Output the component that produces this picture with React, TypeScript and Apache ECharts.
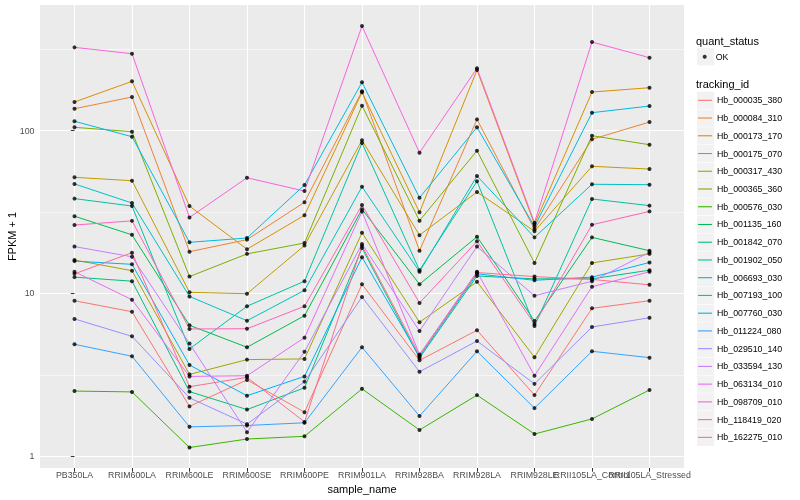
import React, { useEffect, useRef } from "react";
import * as echarts from "echarts";

const categories = [
  "PB350LA", "RRIM600LA", "RRIM600LE", "RRIM600SE", "RRIM600PE", "RRIM901LA",
  "RRIM928BA", "RRIM928LA", "RRIM928LE", "RRII105LA_Control", "RRII105LA_Stressed",
];

const trackingIds = [
  "Hb_000035_380", "Hb_000084_310", "Hb_000173_170", "Hb_000175_070", "Hb_000317_430",
  "Hb_000365_360", "Hb_000576_030", "Hb_001135_160", "Hb_001842_070", "Hb_001902_050",
  "Hb_006693_030", "Hb_007193_100", "Hb_007760_030", "Hb_011224_080", "Hb_029510_140",
  "Hb_033594_130", "Hb_063134_010", "Hb_098709_010", "Hb_118419_020", "Hb_162275_010",
];

const colors = [
  "#F8766D", "#EA8331", "#D89000", "#C09B00", "#A3A500", "#7CAE00", "#39B600", "#00BB4E",
  "#00BF7D", "#00C1A3", "#00BFC4", "#00BAE0", "#00B0F6", "#35A2FF", "#9590FF", "#C77CFF",
  "#E76BF3", "#FA62DB", "#FF62BC", "#FF6C91",
];

// FPKM + 1, one value per sample (categories order)
const Hb_000035_380 = [9.03, 7.73, 2.03, 2.95, 1.87, 11.4, 3.89, 5.95, 2.38, 8.11, 9.03];
const Hb_000084_310 = [136, 160.5, 18.05, 21.4, 36.3, 174, 18.3, 117, 24.8, 88.3, 112.7];
const Hb_000173_170 = [149.6, 200.3, 34.4, 18.7, 30.2, 171.5, 31.5, 235, 26.6, 172.2, 183];
const Hb_000175_070 = [51.6, 49.2, 10.17, 9.97, 19.7, 87.1, 22.8, 41.95, 24.1, 60.3, 58.0];
const Hb_000317_430 = [16.05, 13.8, 3.19, 3.93, 3.97, 23.6, 6.66, 11.8, 4.06, 15.4, 17.5];
const Hb_000365_360 = [104.6, 98.3, 12.7, 17.5, 20.4, 141.9, 27.96, 75.2, 15.4, 92.9, 81.8];
const Hb_000576_030 = [2.52, 2.49, 1.135, 1.28, 1.33, 2.6, 1.454, 2.38, 1.374, 1.7, 2.56];
const Hb_001135_160 = [29.8, 22.9, 6.38, 4.68, 7.31, 32.9, 11.4, 22.3, 6.78, 22.1, 18.3];
const Hb_001842_070 = [12.6, 11.9, 2.5, 1.94, 2.64, 19.0, 4.02, 12.8, 12.3, 12.3, 13.9];
const Hb_001902_050 = [38.2, 34.4, 4.57, 8.35, 11.9, 83.8, 13.9, 48.8, 6.32, 38.0, 34.6];
const Hb_006693_030 = [47.0, 35.9, 9.59, 6.81, 10.46, 45.2, 13.6, 52.6, 22.1, 46.8, 46.5];
const Hb_007193_100 = [113.9, 91.6, 20.6, 21.9, 46.3, 197.5, 38.7, 104.6, 25.7, 128.6, 141.3];
const Hb_007760_030 = [15.8, 15.1, 3.64, 2.36, 3.1, 16.7, 4.1, 13.2, 12.05, 12.6, 15.5];
const Hb_011224_080 = [4.88, 4.12, 1.52, 1.55, 1.61, 4.68, 1.77, 4.42, 1.98, 4.42, 4.04];
const Hb_029510_140 = [6.98, 5.46, 2.29, 1.58, 2.88, 9.52, 3.31, 5.11, 2.79, 6.23, 7.1];
const Hb_033594_130 = [19.4, 16.8, 4.93, 1.41, 4.39, 20.1, 5.89, 19.4, 9.69, 11.9, 17.9];
const Hb_063134_010 = [13.6, 9.16, 3.1, 3.13, 5.36, 31.85, 4.22, 13.6, 3.13, 11.0, 13.6];
const Hb_098709_010 = [323.6, 295.8, 29.3, 51.3, 42.5, 437.5, 73.1, 240.7, 27.2, 349, 279.6];
const Hb_118419_020 = [26.3, 27.9, 6.06, 6.08, 8.35, 34.9, 8.75, 20.9, 6.5, 26.4, 31.9];
const Hb_162275_010 = [13.2, 17.8, 2.68, 3.06, 1.63, 19.6, 4.17, 13.45, 12.7, 12.2, 11.3];

const yMajorTicks = [1, 10, 100];
const yMinorTicks = [3.1623, 31.623, 316.23];

const FONT = "Liberation Sans";

export default function App() {
  const ref = useRef<HTMLDivElement>(null);

  useEffect(() => {
    if (!ref.current) return;
    const chart = echarts.init(ref.current, null, { renderer: "svg" });

    const seriesValues = [
      Hb_000035_380, Hb_000084_310, Hb_000173_170, Hb_000175_070, Hb_000317_430,
      Hb_000365_360, Hb_000576_030, Hb_001135_160, Hb_001842_070, Hb_001902_050,
      Hb_006693_030, Hb_007193_100, Hb_007760_030, Hb_011224_080, Hb_029510_140,
      Hb_033594_130, Hb_063134_010, Hb_098709_010, Hb_118419_020, Hb_162275_010,
    ];
    const xIdx = categories.map((_, i) => i);

    const lineSeries = trackingIds.map((id, k) => ({
      type: "line",
      name: id,
      xAxisIndex: 0,
      yAxisIndex: 0,
      data: seriesValues[k].map((v, i) => [i, v]),
      symbol: "none",
      showSymbol: false,
      color: colors[k],
      lineStyle: { width: 1, color: colors[k] },
      itemStyle: { color: colors[k] },
      silent: true,
      z: 2,
    }));

    const points: number[][] = [];
    seriesValues.forEach((vals) => vals.forEach((v, i) => points.push([i, v])));

    const legendStep = 17.74;
    const keyRects: any[] = [];
    keyRects.push({
      type: "rect",
      shape: { x: 697, y: 56.7 - 8.6, width: 17.2, height: 17.2 },
      style: { fill: "#F2F2F2" },
      z: 1,
      silent: true,
    });
    trackingIds.forEach((_, i) => {
      keyRects.push({
        type: "rect",
        shape: { x: 697, y: 100.3 + i * legendStep - 8.6, width: 17.2, height: 17.2 },
        style: { fill: "#F2F2F2" },
        z: 1,
        silent: true,
      });
    });

    const legendText = {
      fontSize: 8.8,
      color: "#000",
      fontFamily: FONT,
      lineHeight: legendStep,
      height: legendStep,
    };

    // ggplot pads a discrete axis by 0.6 of a step on each side; ECharts' band axis by 0.5
    const panelLeft = 40;
    const panelRight = 116;
    const panelWidth = 800 - panelLeft - panelRight;
    const step = panelWidth / (categories.length + 0.2);

    const option: any = {
      animation: false,
      textStyle: { fontFamily: FONT },
      grid: [
        {
          left: panelLeft,
          right: panelRight,
          top: 5,
          bottom: 32,
          show: true,
          backgroundColor: "#EBEBEB",
          borderWidth: 0,
          containLabel: false,
          outerBoundsMode: "none",
        },
        {
          left: panelLeft + step * 0.1,
          right: panelRight + step * 0.1,
          top: 5,
          bottom: 32,
          show: false,
          containLabel: false,
          outerBoundsMode: "none",
        },
      ],
      title: [
        {
          text: "quant_status",
          left: 696,
          top: 35,
          padding: 0,
          textStyle: { fontSize: 11, fontWeight: "normal", color: "#000", fontFamily: FONT },
        },
        {
          text: "tracking_id",
          left: 696,
          top: 78,
          padding: 0,
          textStyle: { fontSize: 11, fontWeight: "normal", color: "#000", fontFamily: FONT },
        },
      ],
      legend: [
        {
          data: ["OK"],
          orient: "vertical",
          left: 702.7,
          top: 56.7 - legendStep / 2,
          padding: 0,
          itemWidth: 4,
          itemHeight: legendStep,
          itemGap: 0,
          icon: "circle",
          symbolKeepAspect: true,
          selectedMode: false,
          itemStyle: { borderWidth: 0 },
          textStyle: { ...legendText, padding: [0, 0, 0, 4] },
        },
        {
          data: trackingIds,
          orient: "vertical",
          left: 698,
          top: 100.3 - legendStep / 2,
          padding: 0,
          itemWidth: 14,
          itemHeight: legendStep,
          itemGap: 0,
          icon: "path://M0,0H14V1.1H0Z",
          symbolKeepAspect: true,
          selectedMode: false,
          itemStyle: { borderWidth: 0 },
          textStyle: legendText,
        },
      ],
      xAxis: [
        {
          type: "value",
          gridIndex: 0,
          min: -0.6,
          max: 10.6,
          name: "sample_name",
          nameLocation: "middle",
          nameGap: 15,
          nameMoveOverlap: false,
          nameTextStyle: { fontSize: 11, color: "#000", fontFamily: FONT },
          axisLine: { show: false },
          axisTick: { show: false, customValues: xIdx },
          axisLabel: { show: false, customValues: xIdx },
          splitLine: { show: true, lineStyle: { color: "#FFFFFF", width: 1.1 } },
        },
        {
          type: "category",
          gridIndex: 1,
          data: categories,
          boundaryGap: true,
          axisLine: { show: false },
          axisTick: {
            show: true,
            alignWithLabel: true,
            interval: 0,
            length: 3.7,
            lineStyle: { color: "#333333", width: 1 },
          },
          axisLabel: {
            interval: 0,
            color: "#4D4D4D",
            fontSize: 8.8,
            margin: 2,
            hideOverlap: false,
            fontFamily: FONT,
          },
          splitLine: { show: false },
        },
      ],
      yAxis: [
        {
          type: "log",
          gridIndex: 0,
          logBase: 10,
          min: 0.85,
          max: 588.8,
          name: "FPKM + 1",
          nameLocation: "middle",
          nameGap: 23,
          nameMoveOverlap: false,
          nameTextStyle: { fontSize: 11, color: "#000", fontFamily: FONT },
          axisLine: { show: false },
          axisTick: {
            show: true,
            customValues: yMajorTicks,
            length: 3.7,
            lineStyle: { color: "#333333", width: 1 },
          },
          axisLabel: {
            customValues: yMajorTicks,
            formatter: (v: number) => String(Math.round(v)),
            color: "#4D4D4D",
            fontSize: 8.8,
            margin: 5.5,
            showMinLabel: true,
            showMaxLabel: true,
            fontFamily: FONT,
          },
          splitLine: { show: true, lineStyle: { color: "#FFFFFF", width: 1.1 } },
          minorSplitLine: { show: false },
        },
        {
          type: "log",
          gridIndex: 0,
          logBase: 10,
          min: 0.85,
          max: 588.8,
          position: "left",
          axisLine: { show: false },
          axisTick: { show: false, customValues: yMinorTicks },
          axisLabel: { show: false, customValues: yMinorTicks },
          splitLine: { show: true, lineStyle: { color: "#FFFFFF", width: 0.55 } },
        },
        {
          type: "value",
          gridIndex: 1,
          show: false,
          splitLine: { show: false },
        },
      ],
      series: [
        ...lineSeries,
        {
          type: "scatter",
          name: "OK",
          xAxisIndex: 0,
          yAxisIndex: 0,
          data: points,
          symbol: "circle",
          symbolSize: 4,
          color: "#000000",
          itemStyle: { color: "#000000" },
          silent: true,
          z: 3,
        },
      ],
      graphic: keyRects,
    };

    chart.setOption(option);
    return () => {
      chart.dispose();
    };
  }, []);

  return (
    <div
      ref={ref}
      style={{ position: "fixed", left: 0, top: 0, width: 800, height: 500 }}
    />
  );
}
